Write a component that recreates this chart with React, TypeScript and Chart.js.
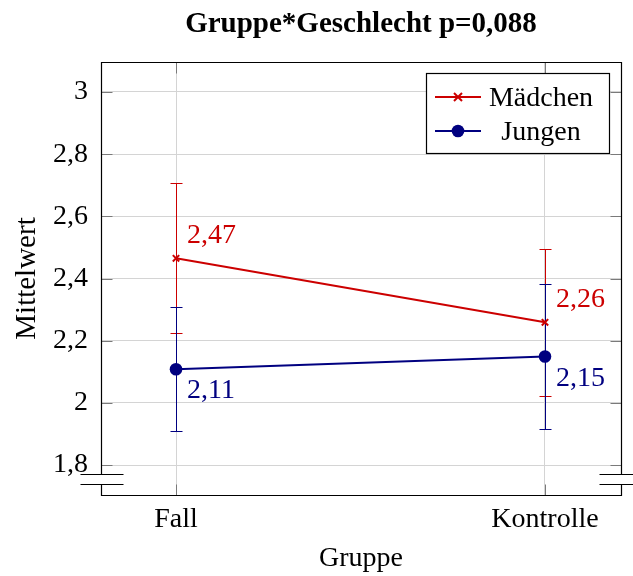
import React, { useEffect, useRef } from 'react';
import { Chart, registerables } from 'chart.js';

Chart.register(...registerables);

const chartTitle = 'Gruppe*Geschlecht p=0,088';
const xTitle = 'Gruppe';
const yTitle = 'Mittelwert';
const categories = ['Fall', 'Kontrolle'];
const seriesNames = ['Mädchen', 'Jungen'];
const maedchenMeans = [2.465, 2.259];
const maedchenErrors = [0.241, 0.236];
const maedchenLabels = ['2,47', '2,26'];
const jungenMeans = [2.108, 2.149];
const jungenErrors = [0.199, 0.234];
const jungenLabels = ['2,11', '2,15'];
const yTicks = [1.8, 2.0, 2.2, 2.4, 2.6, 2.8, 3.0];
const yTickLabels = ['1,8', '2', '2,2', '2,4', '2,6', '2,8', '3'];

const RED = '#cc0000';
const BLUE = '#000080';
const GRID = '#d4d4d4';
const FONT = "'Liberation Serif', 'Times New Roman', serif";

const decorPlugin = {
  id: 'decor',
  beforeDatasetsDraw(chart: any) {
    const { ctx, scales } = chart;
    const x = scales.x;
    const y = scales.y;
    const drawErr = (means: number[], errs: number[], color: string) => {
      ctx.save();
      ctx.strokeStyle = color;
      ctx.lineWidth = 1;
      means.forEach((m, i) => {
        const px = Math.round(x.getPixelForValue(i)) + 0.5;
        const top = Math.round(y.getPixelForValue(m + errs[i])) + 0.5;
        const bot = Math.round(y.getPixelForValue(m - errs[i])) + 0.5;
        ctx.beginPath();
        ctx.moveTo(px, top);
        ctx.lineTo(px, bot);
        ctx.moveTo(px - 6, top);
        ctx.lineTo(px + 6, top);
        ctx.moveTo(px - 6, bot);
        ctx.lineTo(px + 6, bot);
        ctx.stroke();
      });
      ctx.restore();
    };
    drawErr(maedchenMeans, maedchenErrors, RED);
    drawErr(jungenMeans, jungenErrors, BLUE);
  },
  afterDraw(chart: any) {
    const { ctx, chartArea, scales } = chart;
    const x = scales.x;
    const y = scales.y;
    const L = Math.round(chartArea.left) + 0.5;
    const R = Math.round(chartArea.right) + 0.5;
    const T = Math.round(chartArea.top) + 0.5;
    const B = Math.round(chartArea.bottom) + 0.5;
    const brTop = B - 21;
    const brBot = B - 11;

    ctx.save();
    // inner tick marks
    ctx.strokeStyle = '#7a7a7a';
    ctx.lineWidth = 1;
    ctx.beginPath();
    yTicks.forEach((v) => {
      const py = Math.round(y.getPixelForValue(v)) + 0.5;
      ctx.moveTo(L, py);
      ctx.lineTo(L + 11, py);
      ctx.moveTo(R, py);
      ctx.lineTo(R - 11, py);
    });
    categories.forEach((_, i) => {
      const px = Math.round(x.getPixelForValue(i)) + 0.5;
      ctx.moveTo(px, T);
      ctx.lineTo(px, T + 11);
      ctx.moveTo(px, B);
      ctx.lineTo(px, B - 11);
    });
    ctx.stroke();

    // frame with axis break
    ctx.strokeStyle = '#000';
    ctx.lineWidth = 1.2;
    ctx.beginPath();
    ctx.moveTo(L, brTop);
    ctx.lineTo(L, T);
    ctx.lineTo(R, T);
    ctx.lineTo(R, brTop);
    ctx.moveTo(L, brBot);
    ctx.lineTo(L, B);
    ctx.lineTo(R, B);
    ctx.lineTo(R, brBot);
    ctx.moveTo(L - 21, brTop);
    ctx.lineTo(L + 22, brTop);
    ctx.moveTo(L - 21, brBot);
    ctx.lineTo(L + 22, brBot);
    ctx.moveTo(R - 22, brTop);
    ctx.lineTo(R + 22, brTop);
    ctx.moveTo(R - 22, brBot);
    ctx.lineTo(R + 22, brBot);
    ctx.stroke();

    // value labels
    ctx.font = `28px ${FONT}`;
    ctx.textAlign = 'left';
    ctx.textBaseline = 'alphabetic';
    ctx.fillStyle = RED;
    maedchenMeans.forEach((m, i) => {
      const px = x.getPixelForValue(i);
      const py = y.getPixelForValue(m);
      ctx.fillText(maedchenLabels[i], px + 11, py - 15);
    });
    ctx.fillStyle = BLUE;
    jungenMeans.forEach((m, i) => {
      const px = x.getPixelForValue(i);
      const py = y.getPixelForValue(m);
      ctx.fillText(jungenLabels[i], px + 11, py + 29);
    });

    // legend
    const lx0 = 426.5, ly0 = 73.5, lx1 = 609.5, ly1 = 153.5;
    ctx.fillStyle = '#fff';
    ctx.fillRect(lx0, ly0, lx1 - lx0, ly1 - ly0);
    ctx.strokeStyle = '#000';
    ctx.lineWidth = 1.2;
    ctx.strokeRect(lx0, ly0, lx1 - lx0, ly1 - ly0);
    const rows = [
      { name: seriesNames[0], color: RED, y: 97, marker: 'cross' },
      { name: seriesNames[1], color: BLUE, y: 131, marker: 'circle' },
    ];
    rows.forEach((r) => {
      ctx.strokeStyle = r.color;
      ctx.lineWidth = 2;
      ctx.beginPath();
      ctx.moveTo(435, r.y);
      ctx.lineTo(481, r.y);
      ctx.stroke();
      if (r.marker === 'cross') {
        ctx.beginPath();
        ctx.moveTo(458 - 4, r.y - 4);
        ctx.lineTo(458 + 4, r.y + 4);
        ctx.moveTo(458 - 4, r.y + 4);
        ctx.lineTo(458 + 4, r.y - 4);
        ctx.stroke();
      } else {
        ctx.fillStyle = r.color;
        ctx.beginPath();
        ctx.arc(458, r.y, 6.3, 0, Math.PI * 2);
        ctx.fill();
      }
      ctx.fillStyle = '#000';
      ctx.font = `28px ${FONT}`;
      ctx.textAlign = 'center';
      ctx.textBaseline = 'alphabetic';
      ctx.fillText(r.name, 541, r.y + 9);
    });

    // title
    ctx.fillStyle = '#000';
    ctx.font = `bold 29px ${FONT}`;
    ctx.textAlign = 'center';
    ctx.textBaseline = 'alphabetic';
    ctx.fillText(chartTitle, (chartArea.left + chartArea.right) / 2, 32);
    ctx.restore();
  },
};

export default function App() {
  const ref = useRef<HTMLCanvasElement | null>(null);
  useEffect(() => {
    if (!ref.current) return;
    const chart = new Chart(ref.current, {
      type: 'line',
      data: {
        datasets: [
          {
            label: seriesNames[0],
            data: maedchenMeans.map((v, i) => ({ x: i, y: v })),
            borderColor: RED,
            backgroundColor: RED,
            borderWidth: 2,
            pointStyle: 'crossRot',
            pointRadius: 4.5,
            pointBorderWidth: 2,
            pointBorderColor: RED,
            tension: 0,
          },
          {
            label: seriesNames[1],
            data: jungenMeans.map((v, i) => ({ x: i, y: v })),
            borderColor: BLUE,
            backgroundColor: BLUE,
            borderWidth: 2,
            pointStyle: 'circle',
            pointRadius: 6.3,
            pointBorderWidth: 0,
            tension: 0,
          },
        ],
      },
      options: {
        responsive: false,
        animation: false,
        devicePixelRatio: 1,
        layout: { padding: { top: 62, right: 12, left: 0, bottom: 0 } },
        plugins: {
          legend: { display: false },
          tooltip: { enabled: false },
          title: { display: false },
        },
        scales: {
          x: {
            type: 'linear',
            min: -0.2033,
            max: 1.206,
            afterFit: (s: any) => { s.height = 81; },
            afterBuildTicks: (s: any) => { s.ticks = categories.map((_, i) => ({ value: i })); },
            ticks: {
              callback: (_v: any, i: number) => categories[i],
              font: { family: FONT, size: 28 },
              color: '#000',
              padding: 8,
              maxRotation: 0,
              autoSkip: false,
            },
            grid: { color: GRID, drawTicks: false, lineWidth: 1 },
            border: { display: false },
            title: {
              display: true,
              text: xTitle,
              font: { family: FONT, size: 28 },
              color: '#000',
              padding: { top: 0, bottom: 1 },
            },
          },
          y: {
            type: 'linear',
            min: 1.7035,
            max: 3.0965,
            afterFit: (s: any) => { s.width = 101; },
            afterBuildTicks: (s: any) => { s.ticks = yTicks.map((v) => ({ value: v })); },
            ticks: {
              callback: (_v: any, i: number) => yTickLabels[i],
              font: { family: FONT, size: 28 },
              color: '#000',
              padding: 13,
              autoSkip: false,
            },
            grid: { color: GRID, drawTicks: false, lineWidth: 1 },
            border: { display: false },
            title: {
              display: true,
              text: yTitle,
              font: { family: FONT, size: 29 },
              color: '#000',
              padding: { top: 10, bottom: 0 },
            },
          },
        },
      },
      plugins: [decorPlugin],
    } as any);
    return () => chart.destroy();
  }, []);
  return (
    <div style={{ position: 'absolute', left: 0, top: 0, width: 633, height: 576, background: '#fff' }}>
      <canvas ref={ref} width={633} height={576} style={{ display: 'block' }} />
    </div>
  );
}
